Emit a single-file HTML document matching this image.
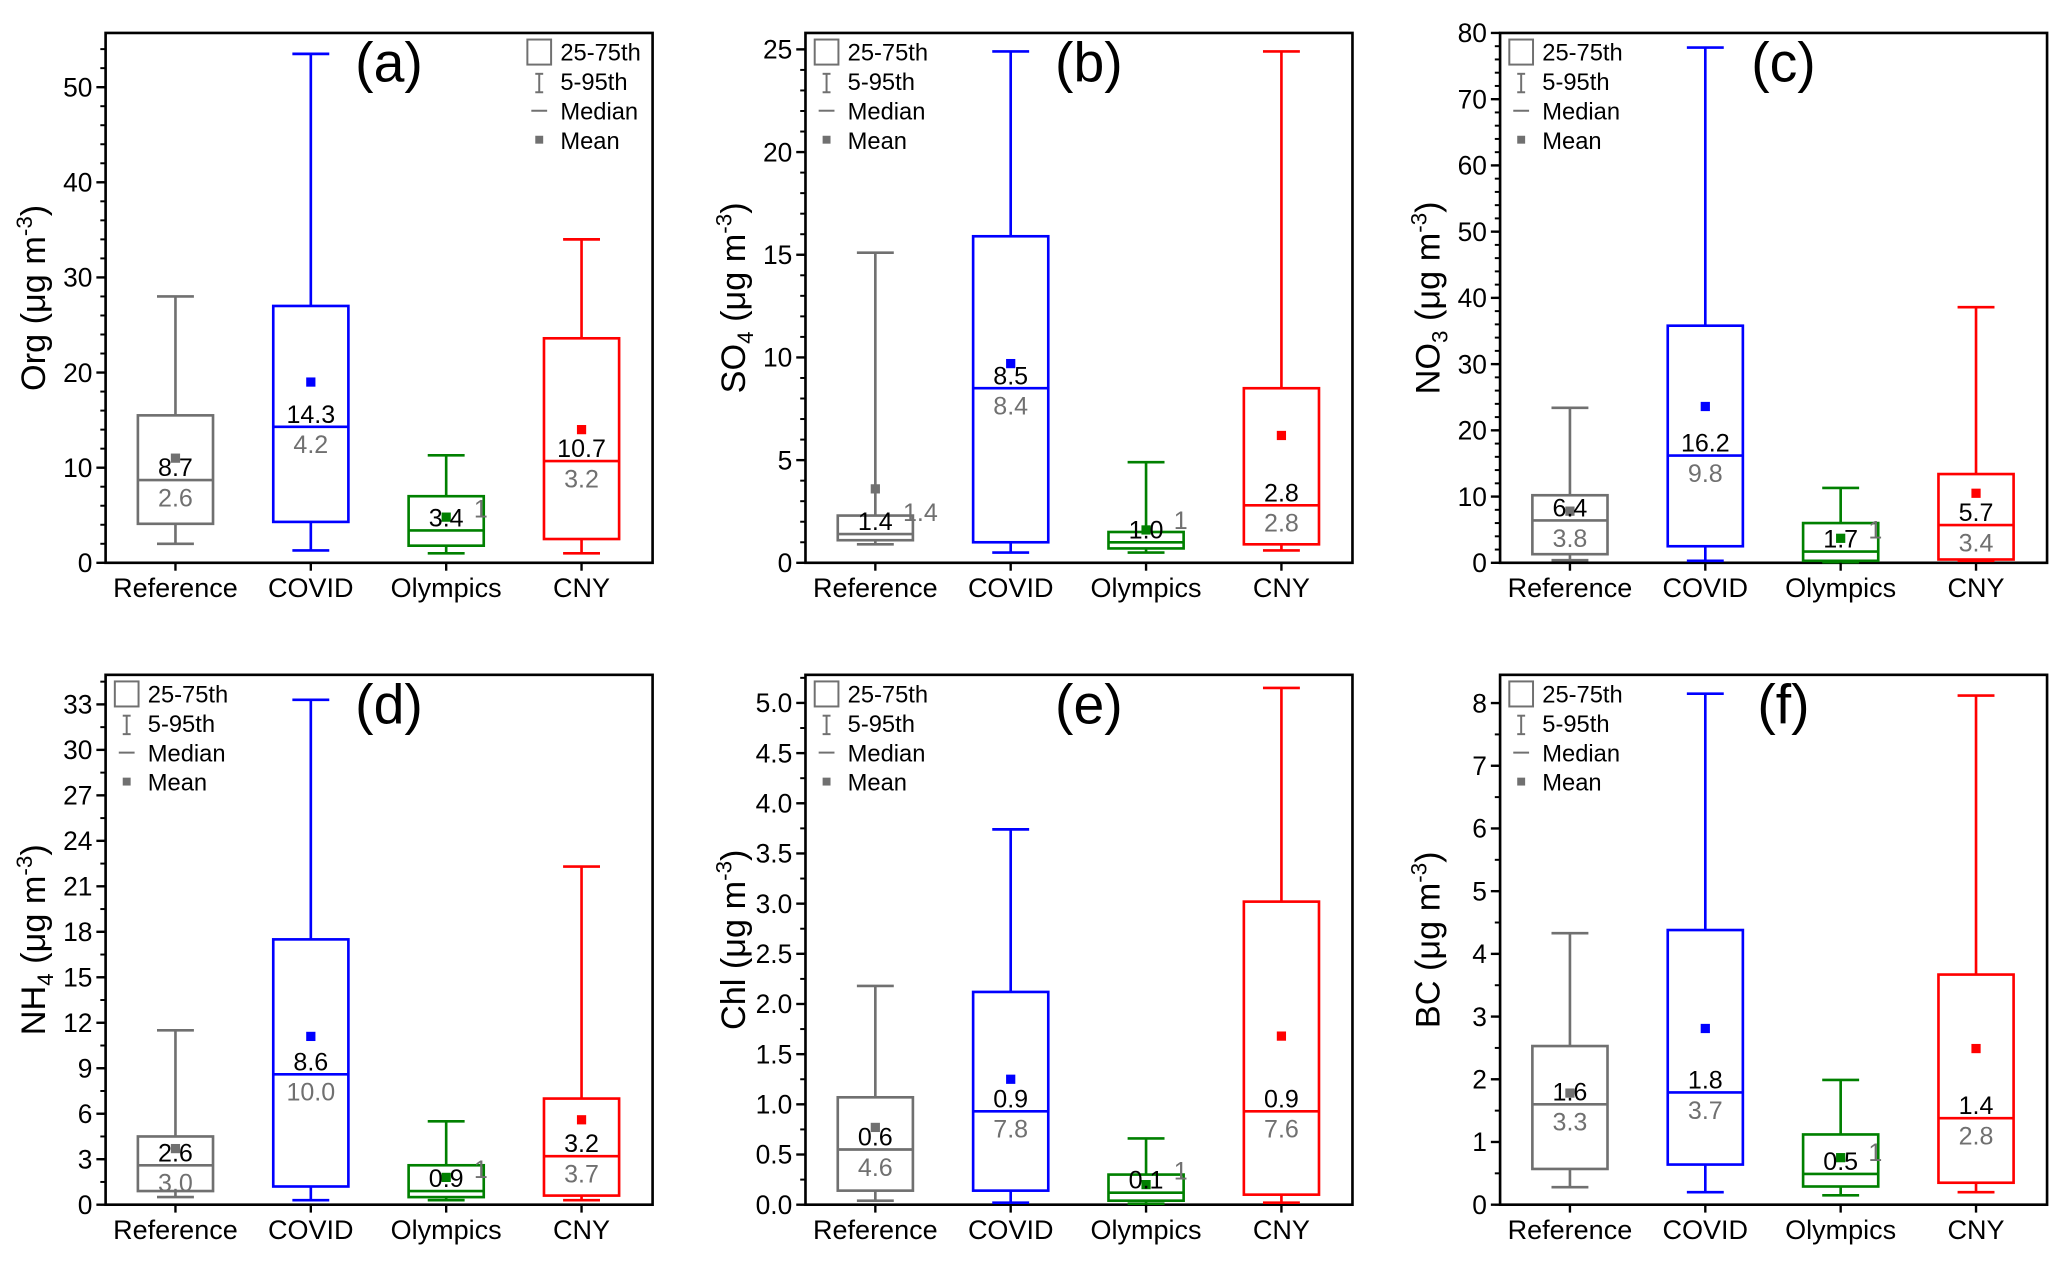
<!DOCTYPE html>
<html><head><meta charset="utf-8">
<style>
html,body{margin:0;padding:0;background:#fff;}
svg{display:block;font-family:"Liberation Sans",Arial,sans-serif;}
</style></head>
<body>
<svg id="fig" width="2067" height="1264" viewBox="0 0 1568 959" xmlns="http://www.w3.org/2000/svg"></svg>
<script>
const categories = ["Reference","COVID","Olympics","CNY"];
const colors = ["#707070","#0000ff","#008000","#ff0000"];
// per panel: [p5, q1, median, q3, p95, mean] per category
const orgStats = [[2,4.1,8.7,15.5,28,11],[1.3,4.3,14.3,27,53.5,19],[1.0,1.8,3.4,7,11.3,4.8],[1.0,2.5,10.7,23.6,34,14]];
const so4Stats = [[0.9,1.1,1.4,2.3,15.1,3.6],[0.5,1.0,8.5,15.9,24.9,9.7],[0.5,0.7,1.0,1.5,4.9,1.6],[0.6,0.9,2.8,8.5,24.9,6.2]];
const no3Stats = [[0.4,1.3,6.4,10.2,23.4,7.8],[0.3,2.5,16.2,35.8,77.8,23.6],[0.1,0.3,1.7,6,11.3,3.7],[0.3,0.5,5.7,13.4,38.6,10.5]];
const nh4Stats = [[0.5,0.9,2.6,4.5,11.5,3.7],[0.3,1.2,8.6,17.5,33.3,11.1],[0.3,0.5,0.9,2.6,5.5,1.8],[0.3,0.6,3.2,7.0,22.3,5.6]];
const chlStats = [[0.04,0.14,0.55,1.07,2.18,0.77],[0.02,0.14,0.93,2.12,3.74,1.25],[0.01,0.04,0.12,0.3,0.66,0.2],[0.02,0.1,0.93,3.02,5.15,1.68]];
const bcStats = [[0.28,0.57,1.6,2.53,4.33,1.78],[0.2,0.64,1.79,4.38,8.15,2.81],[0.15,0.29,0.49,1.12,1.99,0.75],[0.2,0.35,1.38,3.67,8.12,2.49]];
// printed labels
const orgTop = ["8.7","14.3","3.4","10.7"], orgBot = ["2.6","4.2","1","3.2"];
const so4Top = ["1.4","8.5","1.0","2.8"], so4Bot = ["1.4","8.4","1","2.8"];
const no3Top = ["6.4","16.2","1.7","5.7"], no3Bot = ["3.8","9.8","1","3.4"];
const nh4Top = ["2.6","8.6","0.9","3.2"], nh4Bot = ["3.0","10.0","1","3.7"];
const chlTop = ["0.6","0.9","0.1","0.9"], chlBot = ["4.6","7.8","1","7.6"];
const bcTop = ["1.6","1.8","0.5","1.4"], bcBot = ["3.3","3.7","1","2.8"];
// y ticks
const orgTicks = [0,10,20,30,40,50];
const so4Ticks = [0,5,10,15,20,25];
const no3Ticks = [0,10,20,30,40,50,60,70,80];
const nh4Ticks = [0,3,6,9,12,15,18,21,24,27,30,33];
const chlTicks = [0,0.5,1.0,1.5,2.0,2.5,3.0,3.5,4.0,4.5,5.0];
const bcTicks = [0,1,2,3,4,5,6,7,8];

const panels = [
 {id:"a",name:"org",x:80,y:25,ymax:55.7,minor:2,stats:orgStats,top:orgTop,bot:orgBot,ticks:orgTicks,dec:0,title:["Org",""],legRight:true},
 {id:"b",name:"so4",x:611,y:25,ymax:25.8,minor:1,stats:so4Stats,top:so4Top,bot:so4Bot,ticks:so4Ticks,dec:0,title:["SO","4"]},
 {id:"c",name:"no3",x:1138,y:25,ymax:80,minor:2,stats:no3Stats,top:no3Top,bot:no3Bot,ticks:no3Ticks,dec:0,title:["NO","3"]},
 {id:"d",name:"nh4",x:80,y:512,ymax:34.95,minor:1.5,stats:nh4Stats,top:nh4Top,bot:nh4Bot,ticks:nh4Ticks,dec:0,title:["NH","4"]},
 {id:"e",name:"chl",x:611,y:512,ymax:5.28,minor:0.25,stats:chlStats,top:chlTop,bot:chlBot,ticks:chlTicks,dec:1,title:["Chl",""]},
 {id:"f",name:"bc",x:1138,y:512,ymax:8.45,minor:0.5,stats:bcStats,top:bcTop,bot:bcBot,ticks:bcTicks,dec:0,title:["BC",""]}
];
const W=415,H=402;
const NS="http://www.w3.org/2000/svg";
const svg=document.getElementById("fig");
function mk(tag,attrs,parent){const e=document.createElementNS(NS,tag);for(const k in attrs)e.setAttribute(k,attrs[k]);parent.appendChild(e);return e;}

panels.forEach(p=>{
  const g=mk("g",{},svg);
  
  
  const x0=p.x,y0=p.y,yb=y0+H;
  const ys=v=>yb-v/p.ymax*H;
  const xs=i=>x0+53+i*102.7;
  const fr=mk("rect",{x:x0,y:y0,width:W,height:H,fill:"none",stroke:"#000","stroke-width":2},g);
  
  
  for(let v=0; v<=p.ymax+1e-9; v+=p.minor){
    const y=ys(v);
    mk("line",{x1:x0,x2:x0-4,y1:y,y2:y,stroke:"#000","stroke-width":1.5},g);
  }
  p.ticks.forEach(t=>{
    const y=ys(t);
    mk("line",{x1:x0,x2:x0-7,y1:y,y2:y,stroke:"#000","stroke-width":1.8},g);
    const tl=mk("text",{x:x0-10,y:y+7,"text-anchor":"end","font-size":20,fill:"#000"},g);
    tl.textContent=(p.dec?t.toFixed(1):String(t));
    
    
  });
  const tx=x0-46, ty=y0+H/2;
  const tt=mk("text",{x:tx,y:ty,"text-anchor":"middle","font-size":26,fill:"#000",transform:`rotate(-90 ${tx} ${ty})`},g);
  
  
  let s1=mk("tspan",{},tt); s1.textContent=p.title[0];
  if(p.title[1]){let s2=mk("tspan",{"font-size":17,dy:6},tt); s2.textContent=p.title[1]; let s3=mk("tspan",{dy:-6},tt); s3.textContent=" (μg m";}
  else {let s3=mk("tspan",{},tt); s3.textContent=" (μg m";}
  let s4=mk("tspan",{"font-size":17,dy:-10},tt); s4.textContent="-3";
  let s5=mk("tspan",{dy:10},tt); s5.textContent=")";
  const pl=mk("text",{x:x0+215,y:y0+37,"text-anchor":"middle","font-size":42,fill:"#000"},g);
  pl.textContent="("+p.id+")";
  
  
  const lx=p.legRight?x0+320:x0+7;
  const lg=mk("g",{},g);
  
  
  mk("rect",{x:lx,y:y0+5,width:18,height:19,fill:"none",stroke:"#707070","stroke-width":1.5},lg);
  mk("line",{x1:lx+9,x2:lx+9,y1:y0+31,y2:y0+45,stroke:"#707070","stroke-width":1.5},lg);
  mk("line",{x1:lx+6,x2:lx+12,y1:y0+31,y2:y0+31,stroke:"#707070","stroke-width":1.5},lg);
  mk("line",{x1:lx+6,x2:lx+12,y1:y0+45,y2:y0+45,stroke:"#707070","stroke-width":1.5},lg);
  mk("line",{x1:lx+3,x2:lx+15,y1:y0+59,y2:y0+59,stroke:"#707070","stroke-width":1.5},lg);
  mk("rect",{x:lx+6,y:y0+78,width:6,height:6,fill:"#707070"},lg);
  ["25-75th","5-95th","Median","Mean"].forEach((s,k)=>{
    const t=mk("text",{x:lx+25,y:y0+21+k*22.3,"font-size":18,fill:"#000"},lg);
    t.textContent=s;
    
    
  });
  categories.forEach((c,i)=>{
    const st=p.stats[i], col=colors[i], cx=xs(i);
    const bg=mk("g",{},g);
    
    
    const bw=57, cw=28;
    mk("line",{x1:cx,x2:cx,y1:ys(st[0]),y2:ys(st[1]),stroke:col,"stroke-width":2},bg);
    mk("line",{x1:cx,x2:cx,y1:ys(st[3]),y2:ys(st[4]),stroke:col,"stroke-width":2},bg);
    mk("line",{x1:cx-cw/2,x2:cx+cw/2,y1:ys(st[0]),y2:ys(st[0]),stroke:col,"stroke-width":2},bg);
    mk("line",{x1:cx-cw/2,x2:cx+cw/2,y1:ys(st[4]),y2:ys(st[4]),stroke:col,"stroke-width":2},bg);
    mk("rect",{x:cx-bw/2,y:ys(st[3]),width:bw,height:ys(st[1])-ys(st[3]),fill:"none",stroke:col,"stroke-width":2},bg);
    mk("line",{x1:cx-bw/2,x2:cx+bw/2,y1:ys(st[2]),y2:ys(st[2]),stroke:col,"stroke-width":2},bg);
    mk("rect",{x:cx-3.5,y:ys(st[5])-3.5,width:7,height:7,fill:col},bg);
    const ym=ys(st[2]);
    const t1=mk("text",{x:cx,y:ym-3,"text-anchor":"middle","font-size":19,fill:"#000"},bg);
    t1.textContent=p.top[i];
    
    
    let gx=cx, gy=ym+20, anc="middle";
    if(ys(st[1])-ym<15){gx=cx+21; gy=ym-10; anc="start";}
    const t2=mk("text",{x:gx,y:gy,"text-anchor":anc,"font-size":19,fill:"#707070"},bg);
    t2.textContent=p.bot[i];
    
    
    mk("line",{x1:cx,x2:cx,y1:yb,y2:yb+6,stroke:"#000","stroke-width":1.8},g);
    const xl=mk("text",{x:cx,y:yb+26,"text-anchor":"middle","font-size":20.5,fill:"#000"},g);
    xl.textContent=c;
    
    
  });
});
</script>
</body></html>
